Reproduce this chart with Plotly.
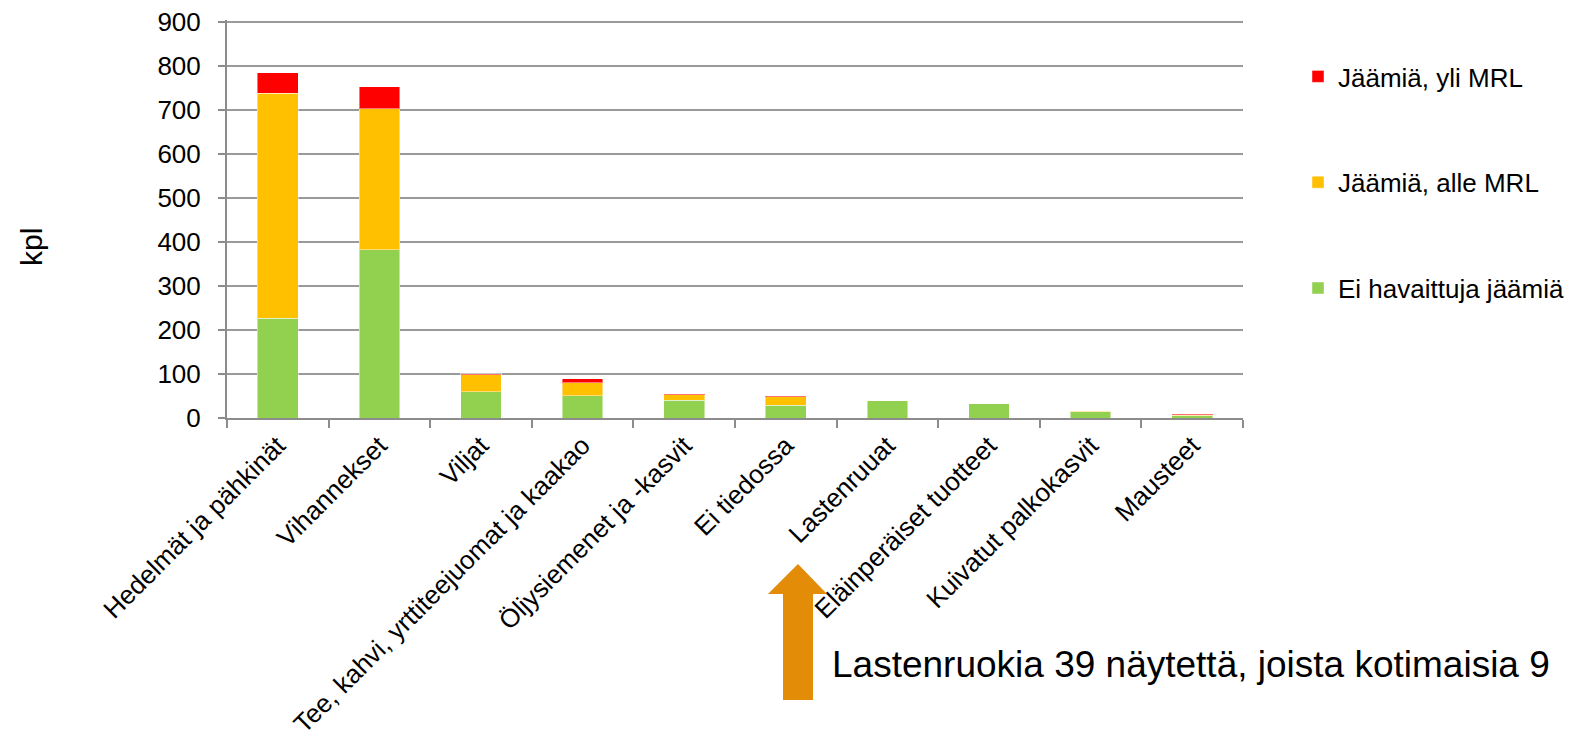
import plotly.graph_objects as go

categories = ["Hedelmät ja pähkinät", "Vihannekset", "Viljat",
              "Tee, kahvi, yrttiteejuomat ja kaakao", "Öljysiemenet ja -kasvit",
              "Ei tiedossa", "Lastenruuat", "Eläinperäiset tuotteet",
              "Kuivatut palkokasvit", "Mausteet"]
ei_havaittuja = [227, 382, 60, 50, 40, 29, 39, 32, 14, 5]
alle_mrl = [511, 320, 38, 30, 13, 19, 0, 0, 1, 1]
yli_mrl = [46, 50, 2, 9, 1, 1, 0, 0, 0, 2]
y_ticks = [0, 100, 200, 300, 400, 500, 600, 700, 800, 900]

# page body has an 8px margin; plot area on screen: x 227..1243, y 20..418
OFF = 8
W, H = 1573 - OFF, 743 - OFF
PX0, PX1, PY0, PY1 = 227, 1243, 20, 418
L, T = PX0 - OFF, PY0 - OFF
PW, PH = PX1 - PX0, PY1 - PY0
R, B = W - L - PW, H - T - PH


def xp(px):
    return (px - PX0) / PW


def yp(py):
    return (PY1 - py) / PH


FONT = "Liberation Sans, Arial, sans-serif"
edge = dict(width=1, color="rgba(255,255,255,0.45)")

fig = go.Figure()
fig.add_trace(go.Bar(x=categories, y=ei_havaittuja, name="Ei havaittuja jäämiä",
                     marker=dict(color="#92D050", line=edge),
                     legendgroup="g3", legendrank=3))
fig.add_trace(go.Bar(x=categories, y=alle_mrl, name="Jäämiä, alle MRL",
                     marker=dict(color="#FFC000", line=edge),
                     legendgroup="g2", legendrank=2))
fig.add_trace(go.Bar(x=categories, y=yli_mrl, name="Jäämiä, yli MRL",
                     marker=dict(color="#FF0000", line=edge),
                     legendgroup="g1", legendrank=1))

# arrow
ax_pts = [(798, 564), (827, 594), (813, 594), (813, 700), (783, 700), (783, 594), (768, 594)]
path = "M " + " L ".join(f"{xp(a):.5f},{yp(b):.5f}" for a, b in ax_pts) + " Z"
fig.add_shape(type="path", path=path, xref="paper", yref="paper",
              fillcolor="#E28C07", line=dict(width=0))

fig.add_annotation(text="Lastenruokia 39 näytettä, joista kotimaisia 9",
                   xref="paper", yref="paper", x=xp(830), y=yp(664),
                   xanchor="left", yanchor="middle", showarrow=False,
                   font=dict(family=FONT, size=37, color="#000000"))

fig.add_annotation(text="kpl", textangle=-90,
                   xref="paper", yref="paper", x=xp(31), y=yp(247),
                   xanchor="center", yanchor="middle", showarrow=False,
                   font=dict(family=FONT, size=30, color="#000000"))

fig.update_layout(
    width=W, height=H,
    margin=dict(l=L, r=R, t=T, b=B, autoexpand=False),
    barmode="stack", bargap=0.6,
    plot_bgcolor="white", paper_bgcolor="white",
    font=dict(family=FONT, size=26, color="#000000"),
    showlegend=True,
    legend=dict(x=xp(1298), y=yp(53), xanchor="left", yanchor="top",
                traceorder="grouped", tracegroupgap=69,
                font=dict(family=FONT, size=26, color="#000000"),
                bgcolor="rgba(0,0,0,0)"),
    xaxis=dict(showline=True, linecolor="#8c8c8c", linewidth=2,
               ticks="outside", ticklen=8, tickcolor="#8c8c8c", tickwidth=2,
               tickson="boundaries", tickangle=-45,
               tickfont=dict(family=FONT, size=26, color="#000000"),
               showgrid=False),
    yaxis=dict(range=[0, 904], tickvals=y_ticks, showline=True,
               linecolor="#8c8c8c", linewidth=2,
               ticks="outside", ticklen=7, tickcolor="#8c8c8c", tickwidth=2,
               ticklabelstandoff=12, ticklabeloverflow="allow",
               showgrid=True, gridcolor="#9a9a9a", gridwidth=2,
               zeroline=False,
               tickfont=dict(family=FONT, size=26, color="#000000")),
)

fig.write_html("out.html")
